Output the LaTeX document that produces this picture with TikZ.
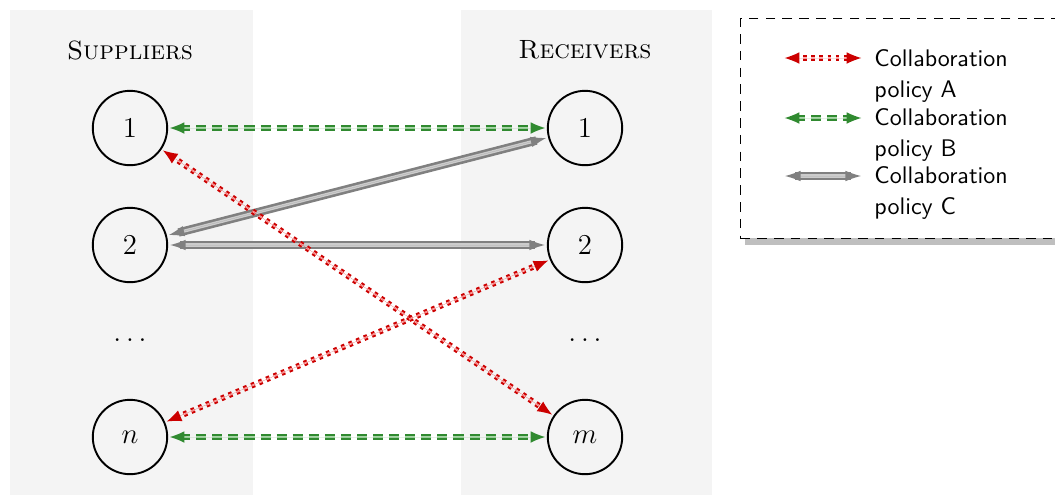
\documentclass[tikz,border=0pt]{standalone}
\usepackage{tikz}
\usetikzlibrary{arrows.meta, shadows}
\definecolor{panelgray}{RGB}{244,244,244}
\definecolor{redout}{RGB}{204,0,0}
\definecolor{redin}{RGB}{255,175,175}
\definecolor{greenout}{RGB}{48,138,48}
\definecolor{greenin}{RGB}{168,214,168}
\definecolor{grayout}{RGB}{128,128,128}
\definecolor{grayin}{RGB}{204,204,204}
\tikzstyle{panel} = [fill=panelgray]
\tikzstyle{title} = [font=\fontsize{11}{13}\selectfont\scshape]
\tikzstyle{agent} = [circle, minimum size=31pt, inner sep=0pt, draw=black, thick, font=\large]
\tikzstyle{legendbox} = [rectangle, draw=black, dash pattern=on 4pt off 3pt, fill=white, anchor=north west, minimum width=140pt, minimum height=91.5pt, drop shadow={shadow xshift=2pt, shadow yshift=-3pt, fill=black!25, opacity=1}]
\tikzstyle{legtext} = [anchor=base west, inner sep=0pt, text width=62pt, align=left, font=\sffamily\linespread{1.1}\selectfont]
% tips on an invisible line, the double line itself as preaction
\tikzstyle{policyA} = [<->, >={Latex[length=7pt,width=5.5pt]}, draw=redout, draw opacity=0, fill=redout, preaction={draw=redout, draw opacity=1, arrows=-, line width=0.85pt, double=redin, double distance=0.7pt, dash pattern=on 1.5pt off 1.9pt, shorten <=5pt, shorten >=5pt}]
\tikzstyle{policyB} = [<->, >={Latex[length=7pt,width=5.5pt]}, draw=greenout, draw opacity=0, fill=greenout, preaction={draw=greenout, draw opacity=1, arrows=-, line width=0.85pt, double=greenin, double distance=0.8pt, dash pattern=on 4.2pt off 2.5pt, shorten <=5pt, shorten >=5pt}]
\tikzstyle{policyC} = [<->, >={Latex[length=7.5pt,width=5pt]}, draw=grayout, draw opacity=0, fill=grayout, preaction={draw=grayout, draw opacity=1, arrows=-, line width=1.1pt, double=grayin, double distance=1.3pt, shorten <=5pt, shorten >=5pt}]

\begin{document}
\begin{tikzpicture}[x=0.4167pt, y=-0.4167pt]

\useasboundingbox (0,0) rectangle (1055,495);

% background columns
\fill [panel] (10,10) rectangle (253,495);
\fill [panel] (461,10) rectangle (712,495);

\node (suptitle) [title] at (130,50) {Suppliers};
\node (rectitle) [title] at (585,50) {Receivers};

% suppliers
\node (s1) [agent] at (130,128) {1};
\node (s2) [agent] at (130,245) {2};
\node (sdots) [font=\large] at (130,340) {$\ldots$};
\node (sn) [agent] at (130,437) {$n$};

% receivers
\node (r1) [agent] at (585,128) {1};
\node (r2) [agent] at (585,245) {2};
\node (rdots) [font=\large] at (585,340) {$\ldots$};
\node (rm) [agent] at (585,437) {$m$};

\draw [policyB] (s1) -- (r1);
\draw [policyC] (s2) -- (r1);
\draw [policyC] (s2) -- (r2);
\draw [policyA] (s1) -- (rm);
\draw [policyA] (sn) -- (r2);
\draw [policyB] (sn) -- (rm);

% legend
\node (legend) [legendbox] at (740,18) {};

\coordinate (la1) at (783,58);
\coordinate (la2) at (863,58);
\coordinate (lb1) at (783,118);
\coordinate (lb2) at (863,118);
\coordinate (lc1) at (783,176);
\coordinate (lc2) at (863,176);

\draw [policyA] (la1) -- (la2);
\draw [policyB] (lb1) -- (lb2);
\draw [policyC] (lc1) -- (lc2);

\node (txta) [legtext] at (874,66) {Collaboration policy A};
\node (txtb) [legtext] at (874,125) {Collaboration policy B};
\node (txtc) [legtext] at (874,183) {Collaboration policy C};

\end{tikzpicture}
\end{document}
